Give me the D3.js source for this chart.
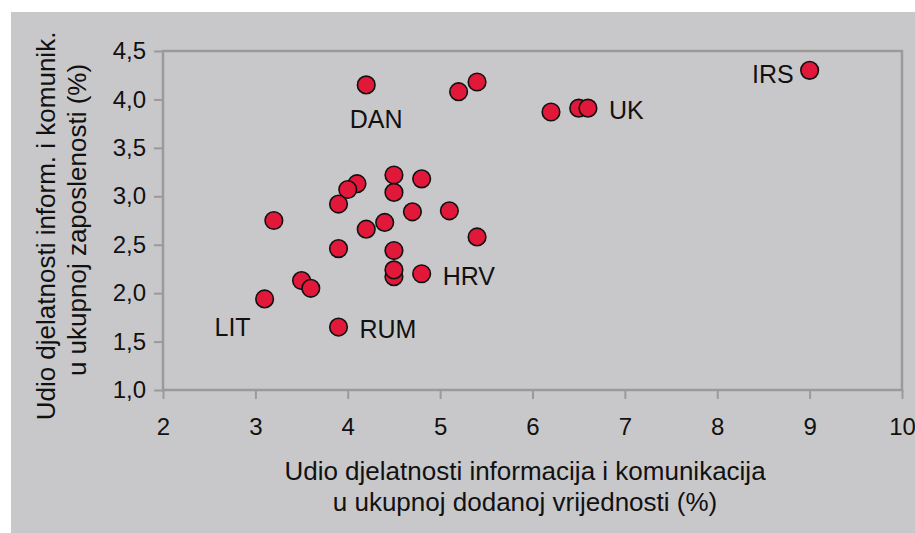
<!DOCTYPE html>
<html>
<head>
<meta charset="utf-8">
<script src="https://cdn.jsdelivr.net/npm/d3@7"></script>
<style>
  body { margin: 0; background: #fff; }
  svg { display: block; font-family: "Liberation Sans", Arial, sans-serif; }
  .axis text { font-size: 24px; fill: #111; }
  .axis line { stroke: #9a9a9a; stroke-width: 2; }
  .axis path { display: none; }
  .title { font-size: 26px; fill: #111; }
  .lbl { font-size: 25px; fill: #111; }
</style>
</head>
<body>
<div id="chart"></div>
<script>
// share of ICT sector in gross value added (%) - x
var shareGVA = [4.2, 5.2, 5.4, 6.2, 6.5, 6.6, 9.0, 4.5, 4.8, 4.1, 4.0, 4.5, 3.9, 3.2,
    4.7, 5.1, 4.4, 4.2, 5.4, 3.9, 4.5, 4.5, 4.5, 4.8, 3.5, 3.6, 3.1, 3.9];
// share of ICT sector in total employment (%) - y
var shareEmp = [4.15, 4.08, 4.18, 3.87, 3.91, 3.91, 4.30, 3.22, 3.18, 3.13, 3.07, 3.04, 2.92, 2.75,
    2.84, 2.85, 2.73, 2.66, 2.58, 2.46, 2.44, 2.17, 2.24, 2.20, 2.13, 2.05, 1.94, 1.65];
var pointLabels = ['DAN', '', '', '', '', 'UK', 'IRS', '', '', '', '', '', '', '',
    '', '', '', '', '', '', '', '', '', 'HRV', '', '', 'LIT', 'RUM'];

var xTicks = [2, 3, 4, 5, 6, 7, 8, 9, 10];
var yTicks = [1.0, 1.5, 2.0, 2.5, 3.0, 3.5, 4.0, 4.5];
var xTitle = ['Udio djelatnosti informacija i komunikacija', 'u ukupnoj dodanoj vrijednosti (%)'];
var yTitle = ['Udio djelatnosti inform. i komunik.', 'u ukupnoj zaposlenosti (%)'];

// where each label sits next to its point (px)
var labelPlace = {
    'DAN': {anchor: 'middle', dx: 10, dy: 43},
    'IRS': {anchor: 'end', dx: -16, dy: 13},
    'UK': {anchor: 'start', dx: 21, dy: 11},
    'HRV': {anchor: 'start', dx: 21, dy: 11},
    'LIT': {anchor: 'end', dx: -14, dy: 37},
    'RUM': {anchor: 'start', dx: 21, dy: 11}
};

var data = shareGVA.map(function (d, i) {
    return {x: d, y: shareEmp[i], label: pointLabels[i]};
});

var W = 915, H = 533;
var margin = {top: 51, right: 13, bottom: 143, left: 163};

var hr = d3.formatLocale({decimal: ',', thousands: '.', grouping: [3], currency: ['', ' kn']});

var svg = d3.select('#chart').append('svg')
    .attr('width', W)
    .attr('height', H);

svg.append('rect')
    .attr('x', 11).attr('y', 12)
    .attr('width', W - 11).attr('height', H - 12)
    .attr('fill', '#c8c8ca');

var x = d3.scaleLinear().domain([2, 10]).range([margin.left, W - margin.right]);
var y = d3.scaleLinear().domain([1, 4.5]).range([H - margin.bottom, margin.top]);

svg.append('g')
    .attr('class', 'axis')
    .attr('transform', 'translate(0,' + y(1) + ')')
    .call(d3.axisBottom(x).tickValues(xTicks).tickFormat(hr.format('d'))
        .tickSize(9).tickSizeOuter(0).tickPadding(19));

svg.append('g')
    .attr('class', 'axis')
    .attr('transform', 'translate(' + x(2) + ',0)')
    .call(d3.axisLeft(y).tickValues(yTicks).tickFormat(hr.format('.1f'))
        .tickSize(9).tickSizeOuter(0).tickPadding(8));

// plot frame
svg.append('rect')
    .attr('x', x(2)).attr('y', y(4.5))
    .attr('width', x(10) - x(2)).attr('height', y(1) - y(4.5))
    .attr('fill', 'none')
    .attr('stroke', '#9a9a9a')
    .attr('stroke-width', 2.5);

svg.append('g').selectAll('circle')
    .data(data)
    .enter().append('circle')
    .attr('cx', function (d) { return x(d.x); })
    .attr('cy', function (d) { return y(d.y); })
    .attr('r', 8.8)
    .attr('fill', '#e2183a')
    .attr('stroke', '#111')
    .attr('stroke-width', 1.6);

svg.append('g').selectAll('text')
    .data(data.filter(function (d) { return d.label; }))
    .enter().append('text')
    .attr('class', 'lbl')
    .attr('x', function (d) { return x(d.x) + labelPlace[d.label].dx; })
    .attr('y', function (d) { return y(d.y) + labelPlace[d.label].dy; })
    .attr('text-anchor', function (d) { return labelPlace[d.label].anchor; })
    .text(function (d) { return d.label; });

// axis titles
svg.append('g').selectAll('text')
    .data(xTitle)
    .enter().append('text')
    .attr('class', 'title')
    .attr('text-anchor', 'middle')
    .attr('x', 525)
    .attr('y', function (d, i) { return 480 + i * 31; })
    .text(function (d) { return d; });

svg.append('g').selectAll('text')
    .data(yTitle)
    .enter().append('text')
    .attr('class', 'title')
    .attr('text-anchor', 'middle')
    .attr('transform', function (d, i) {
        return 'translate(' + (55 + i * 31) + ',' + (226 - i * 6) + ') rotate(-90)';
    })
    .text(function (d) { return d; });
</script>
</body>
</html>
